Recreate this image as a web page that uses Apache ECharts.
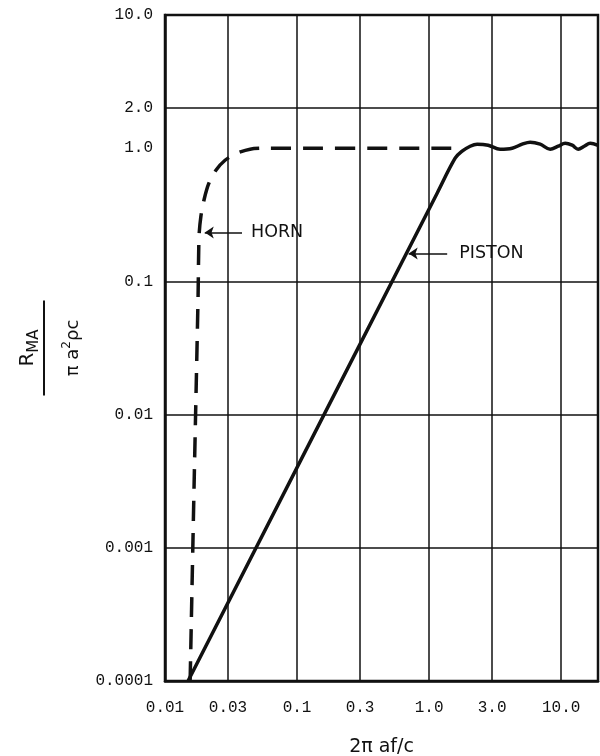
<!DOCTYPE html>
<html><head><meta charset="utf-8">
<script src="https://cdn.jsdelivr.net/npm/echarts@6.0.0/dist/echarts.min.js"></script>
<style>html,body{margin:0;padding:0;background:#fff}#c{width:600px;height:756px}</style>
</head><body><div id="c"></div>
<script>
// ---- data ----
const xLabelValues = [0.01, 0.03, 0.1, 0.3, 1, 3, 10];
const xLabelTexts  = ['0.01', '0.03', '0.1', '0.3', '1.0', '3.0', '10.0'];
const xGridValues  = [0.03, 0.1, 0.3, 1, 3, 10];
const yLabelValues = [0.0001, 0.001, 0.01, 0.1, 1, 2, 10];
const yLabelTexts  = ['0.0001', '0.001', '0.01', '0.1', '1.0', '2.0', '10.0'];
const yGridValues  = [0.001, 0.01, 0.1, 2];

const hornX = [0.0155, 0.0166, 0.0178, 0.0181, 0.0187, 0.0198, 0.0215, 0.0243, 0.0285, 0.0351, 0.0441, 0.0572, 1.66];
const hornY = [0.0001, 0.0029, 0.077, 0.218, 0.308, 0.414, 0.546, 0.683, 0.812, 0.917, 0.983, 1.0, 1.0];

const pistonX = [0.01494, 1.150, 1.574, 1.778, 2.045, 2.311, 2.80, 3.45, 4.255, 5.064, 5.82, 6.93, 8.25, 9.49, 10.72, 12.11, 13.45, 14.94, 16.59, 19.0];
const pistonY = [0.0001, 0.459, 0.841, 0.949, 1.035, 1.072, 1.053, 0.983, 1.0, 1.072, 1.110, 1.072, 0.983, 1.035, 1.090, 1.053, 0.983, 1.035, 1.090, 1.05];

const hornNote   = {text: 'HORN',   from: [0.0383, 0.233], to: [0.0200, 0.233]};
const pistonNote = {text: 'PISTON', from: [1.37, 0.162],   to: [0.70, 0.162]};

// ---- helpers ----
function lookup(values, texts) {
  return function (v) {
    let best = 0, bd = Infinity;
    for (let i = 0; i < values.length; i++) {
      const d = Math.abs(Math.log10(v) - Math.log10(values[i]));
      if (d < bd) { bd = d; best = i; }
    }
    return texts[best];
  };
}
const ink = '#111';
const mono = 'Liberation Mono';
const sans = 'DejaVu Sans';

const chart = echarts.init(document.getElementById('c'), null, {renderer: 'canvas'});

function noteLine(note, gap) {
  return {
    silent: true,
    symbol: ['none', 'arrow'],
    symbolSize: 9,
    lineStyle: {type: 'solid', width: 1.5, color: ink},
    label: {show: true, position: 'start', formatter: note.text, color: ink,
            fontFamily: sans, fontSize: 17.5, distance: gap},
    data: [[{coord: note.from}, {coord: note.to}]]
  };
}

chart.setOption({
  backgroundColor: '#fff',
  animation: false,
  grid: {left: 165, right: 2, top: 15, bottom: 75, containLabel: false, outerBoundsMode: 'none',
         show: true, borderColor: ink, borderWidth: 2.5},
  xAxis: {
    type: 'log', logBase: 10, min: 0.01, max: 19,
    axisLine: {show: true, lineStyle: {color: ink, width: 2.5}},
    axisTick: {show: false, customValues: xGridValues},
    splitLine: {show: true, lineStyle: {color: ink, width: 1.5}},
    axisLabel: {customValues: xLabelValues, formatter: lookup(xLabelValues, xLabelTexts),
                fontFamily: mono, fontSize: 16, color: ink, margin: 19},
    name: '2π af/c', nameLocation: 'middle', nameGap: 57,
    nameTextStyle: {fontFamily: sans, fontSize: 19, color: ink}
  },
  yAxis: {
    type: 'log', logBase: 10, min: 0.0001, max: 10,
    axisLine: {show: true, lineStyle: {color: ink, width: 2.5}},
    axisTick: {show: false, customValues: yGridValues},
    splitLine: {show: true, lineStyle: {color: ink, width: 1.5}},
    axisLabel: {customValues: yLabelValues, formatter: lookup(yLabelValues, yLabelTexts),
                fontFamily: mono, fontSize: 16, color: ink, margin: 12},
    name: '{n|R}{s|MA}\n{hr| }\n{d|π a}{p|2}{d|ρc}',
    nameLocation: 'middle', nameRotate: 90, nameGap: 64,
    nameTextStyle: {
      color: ink,
      rich: {
        n: {fontFamily: sans, fontSize: 20, color: ink, lineHeight: 30},
        s: {fontFamily: sans, fontSize: 15, color: ink, padding: [12, 0, 0, 0]},
        hr: {width: 95, height: 2, lineHeight: 2, fontSize: 2, backgroundColor: ink},
        d: {fontFamily: sans, fontSize: 18, color: ink, lineHeight: 56},
        p: {fontFamily: sans, fontSize: 12, color: ink, padding: [0, 0, 12, 0]}
      }
    }
  },
  series: [
    {
      name: 'HORN', type: 'line', showSymbol: false, smooth: 0.25,
      data: hornX.map((x, i) => [x, hornY[i]]),
      lineStyle: {type: [20, 12], width: 3.5, color: ink},
      markLine: noteLine(hornNote, 9), z: 3
    },
    {
      name: 'PISTON', type: 'line', showSymbol: false, smooth: 0.35,
      data: pistonX.map((x, i) => [x, pistonY[i]]),
      lineStyle: {type: 'solid', width: 3.5, color: ink},
      markLine: noteLine(pistonNote, 12), z: 4
    }
  ]
});
</script></body></html>
